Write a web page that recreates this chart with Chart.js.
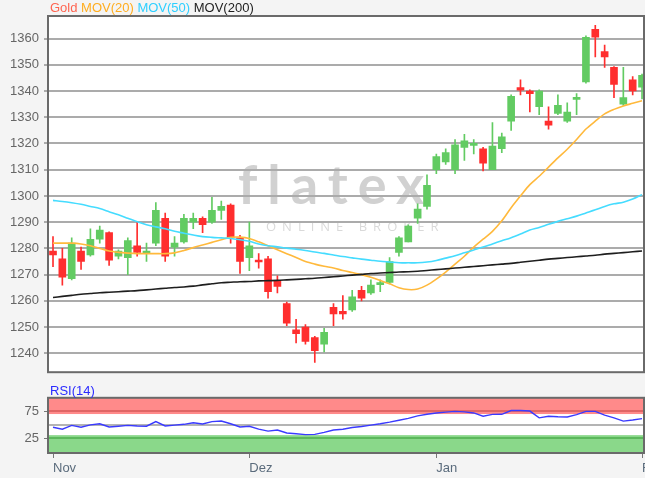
<!DOCTYPE html>
<html>
<head>
<meta charset="utf-8">
<title>Gold</title>
<script src="https://cdn.jsdelivr.net/npm/chart.js@4"></script>
<style>
  html, body { margin: 0; padding: 0; background: #f4f4f4; }
  #wrap { position: relative; width: 645px; height: 478px; overflow: hidden; }
  #price-box { position: absolute; left: 0; top: 0; width: 645px; height: 385px; }
  #rsi-box { position: absolute; left: 0; top: 385px; width: 645px; height: 93px; }
</style>
</head>
<body>
<div id="wrap">
  <div id="price-box"><canvas id="price-chart"></canvas></div>
  <div id="rsi-box"><canvas id="rsi-chart"></canvas></div>
</div>
<script>
// Gold daily candles, Nov 2017 - Feb 2018
const days = [
    '2017-11-01', '2017-11-02', '2017-11-03', '2017-11-06', '2017-11-07', '2017-11-08', '2017-11-09', '2017-11-10',
    '2017-11-13', '2017-11-14', '2017-11-15', '2017-11-16', '2017-11-17', '2017-11-20', '2017-11-21', '2017-11-22',
    '2017-11-24', '2017-11-27', '2017-11-28', '2017-11-29', '2017-11-30',
    '2017-12-01', '2017-12-04', '2017-12-05', '2017-12-06', '2017-12-07', '2017-12-08', '2017-12-11', '2017-12-12',
    '2017-12-13', '2017-12-14', '2017-12-15', '2017-12-18', '2017-12-19', '2017-12-20', '2017-12-21', '2017-12-22',
    '2017-12-26', '2017-12-27', '2017-12-28', '2017-12-29',
    '2018-01-02', '2018-01-03', '2018-01-04', '2018-01-05', '2018-01-08', '2018-01-09', '2018-01-10', '2018-01-11',
    '2018-01-12', '2018-01-15', '2018-01-16', '2018-01-17', '2018-01-18', '2018-01-19', '2018-01-22', '2018-01-23',
    '2018-01-24', '2018-01-25', '2018-01-26', '2018-01-29', '2018-01-30', '2018-01-31',
    '2018-02-01'
];

const opens = [
    1279, 1276, 1268.5, 1279, 1277.5, 1283.5, 1286, 1277, 1276.5, 1281, 1278, 1282, 1291.5, 1280.5, 1282.5, 1290,
    1291.5, 1290, 1294.5, 1296.5, 1284, 1276.5, 1275.3, 1276, 1267.5, 1259, 1249, 1250, 1246, 1243.5, 1257.5, 1256,
    1256.5, 1264, 1263, 1266.2, 1267, 1278.5, 1282.5, 1291.5, 1296, 1310, 1313, 1310, 1318.5, 1319.3, 1318, 1310,
    1318, 1328.5, 1341.3, 1340, 1334, 1328.5, 1331.5, 1328.5, 1336.8, 1343.5, 1363.5, 1355, 1349, 1335, 1344.3, 1341.5
];
const highs = [
    1284.5, 1280, 1284, 1280.5, 1287.5, 1288.5, 1286.3, 1279.5, 1284, 1290, 1282, 1297.5, 1293.5, 1284.5, 1293, 1293.5,
    1292, 1299.5, 1298, 1297, 1285, 1290, 1278, 1277, 1269.5, 1259.5, 1253, 1251, 1246.5, 1249.5, 1259, 1262,
    1264, 1265.5, 1268, 1268, 1276.5, 1284.5, 1289, 1297, 1308, 1316, 1318, 1321.5, 1323.5, 1321.5, 1318.5, 1328,
    1324, 1338.5, 1344.3, 1340.5, 1340.5, 1334, 1338.5, 1335.5, 1339, 1361, 1365, 1357.5, 1349.3, 1349, 1345.5, 1346.5
];
const lows = [
    1273, 1266, 1268, 1272, 1277, 1282, 1273.5, 1276, 1270, 1277, 1275, 1281, 1275, 1277, 1282, 1287.5,
    1286, 1289.5, 1291, 1282, 1270.5, 1271.5, 1272.5, 1261, 1263, 1250.5, 1244, 1243.5, 1236.5, 1240.5, 1250.5, 1253,
    1256, 1260, 1262.5, 1263.5, 1266.5, 1277, 1282.5, 1289.5, 1295, 1308.5, 1312, 1308.5, 1313.5, 1316, 1309.5, 1310,
    1316.5, 1325, 1338.5, 1332, 1331, 1325.5, 1331, 1328, 1331, 1343, 1353, 1349, 1337.5, 1334.5, 1338.5, 1337
];
const closes = [
    1277.5, 1269, 1282, 1275, 1283.5, 1287, 1275.5, 1279, 1283, 1278.5, 1279, 1294.5, 1277, 1282, 1291.5, 1291.5,
    1289, 1294.5, 1296, 1284, 1275, 1281, 1274.8, 1263.5, 1265.5, 1251.5, 1247.5, 1244.5, 1241, 1248, 1255, 1255,
    1261.5, 1261, 1266, 1266.8, 1275, 1284, 1288.5, 1295, 1304, 1315, 1316.5, 1319.5, 1321, 1319.7, 1312.5, 1319,
    1322.5, 1338, 1340.3, 1339, 1340, 1327, 1334.5, 1332, 1337.2, 1360.5, 1360.5, 1353, 1342.5, 1337.5, 1340, 1346
];

const mov20 = [
    1282, 1282, 1282, 1281.7, 1281, 1280, 1279, 1278.5, 1278.2, 1278, 1278, 1278, 1278, 1278.3, 1279.2, 1280.3,
    1281.3, 1282.3, 1283.3, 1284.2, 1284.3, 1283.8, 1282.5, 1281, 1279.5, 1278, 1276.5, 1275, 1274, 1273.2, 1272.5, 1271.6,
    1270.8, 1270, 1269, 1267.8, 1266.5, 1265, 1264.3, 1264.5, 1266, 1268.3, 1271, 1274, 1277, 1280.5, 1283.5, 1286.5,
    1290.5, 1295.5, 1300, 1304.3, 1307.5, 1311, 1314.5, 1317.8, 1321.5, 1325.5, 1328.5, 1331.3, 1333, 1334.3, 1335.3, 1336.3
];
const mov50 = [
    1298.3, 1297.9, 1297.4, 1296.8, 1296, 1295.2, 1294, 1292.8, 1291.5, 1290.2, 1289, 1288.2, 1287.5, 1286.5, 1285.8, 1285.1,
    1284.5, 1284.2, 1284, 1283.8, 1283.3, 1282.7, 1281.7, 1281, 1280.6, 1280.1, 1279.7, 1279.2, 1278.6, 1278.1, 1277.5, 1276.9,
    1276.4, 1275.9, 1275.5, 1275.1, 1274.8, 1274.5, 1274.5, 1274.5, 1274.8, 1275.4, 1276.3, 1277.2, 1278.3, 1279.4, 1280.5, 1281.7,
    1282.9, 1284.1, 1285.5, 1287, 1288, 1289.2, 1290.3, 1291.3, 1292.3, 1293.5, 1294.7, 1296, 1297, 1297.6, 1298.8, 1300.5
];
const mov200 = [
    1261.3, 1261.7, 1262.1, 1262.5, 1262.8, 1263.1, 1263.3, 1263.5, 1263.7, 1263.9, 1264.2, 1264.5, 1264.8, 1265.1, 1265.3, 1265.6,
    1266.1, 1266.5, 1266.9, 1267.1, 1267.3, 1267.4, 1267.6, 1267.7, 1267.8, 1268, 1268.2, 1268.4, 1268.6, 1268.9, 1269.2, 1269.5,
    1269.8, 1270.1, 1270.4, 1270.6, 1270.8, 1271, 1271.1, 1271.3, 1271.6, 1271.9, 1272.2, 1272.5, 1272.8, 1273.1, 1273.4, 1273.7,
    1274, 1274.3, 1274.7, 1275.1, 1275.5, 1275.9, 1276.2, 1276.5, 1276.8, 1277.1, 1277.4, 1277.8, 1278.1, 1278.4, 1278.7, 1279
];
const rsi14 = [
    45.5, 42, 49, 45.5, 50, 52, 46, 47.5, 49, 48, 47.5, 56, 48, 49.5, 51, 54,
    51.5, 56, 57, 52, 46, 47.5, 42, 38.5, 40.5, 35, 33.5, 32, 32.4, 36, 40.5, 42,
    45, 47, 49.5, 52, 55, 58.5, 62, 66.5, 69.5, 72, 73.5, 75, 74, 72, 66, 69.4,
    69.5, 76.5, 76.5, 75.5, 63, 66, 65, 64.5, 69, 75, 75, 68, 63, 57, 59, 61.5
];

const priceTicks = [1240, 1250, 1260, 1270, 1280, 1290, 1300, 1310, 1320, 1330, 1340, 1350, 1360];
const rsiTicks = [25, 75];
const monthNames = { '01': 'Jan', '02': 'Feb', '11': 'Nov', '12': 'Dez' };

// Colors
const upColor = '#62cb62';
const downColor = '#ff2e2e';
const mov20Color = '#ffb93c';
const mov50Color = '#45dcff';
const mov200Color = '#1e1e1e';
const rsiColor = '#3a3aff';
const gridColor = '#ababab';
const frameColor = '#6a6a6a';
const labelColor = '#666666';

Chart.defaults.font.family = '"Liberation Sans", Arial, sans-serif';
Chart.defaults.font.size = 13;

// visible index window (last candle is cut by the right edge)
const xMin = -0.535;
const xMax = 63.21;

// first trading day of each month -> tick
const monthStarts = days
    .map((d, i) => i)
    .filter(i => i === 0 || days[i].slice(5, 7) !== days[i - 1].slice(5, 7));

const candleColors = closes.map((c, i) => c >= opens[i] ? upColor : downColor);

function xy(values) {
    return values.map((v, i) => ({ x: i, y: v }));
}

// keep scale labels from shrinking the plot area
function noSidePadding(scale) {
    scale.paddingLeft = 0;
    scale.paddingRight = 0;
}

// White plot area + frame
const panelPlugin = {
    id: 'panel',
    beforeDraw(chart) {
        const { ctx, chartArea: a } = chart;
        ctx.save();
        ctx.fillStyle = '#ffffff';
        ctx.fillRect(a.left, a.top, a.right - a.left, a.bottom - a.top);
        ctx.restore();
    },
    afterDraw(chart) {
        const { ctx, chartArea: a } = chart;
        ctx.save();
        ctx.strokeStyle = frameColor;
        ctx.lineWidth = 2;
        ctx.strokeRect(a.left, a.top, a.right - a.left, a.bottom - a.top);
        ctx.restore();
    }
};

const watermarkPlugin = {
    id: 'watermark',
    beforeDraw(chart) {
        const ctx = chart.ctx;
        ctx.save();
        ctx.textAlign = 'left';
        ctx.textBaseline = 'alphabetic';
        ctx.fillStyle = 'rgba(140, 140, 140, 0.4)';
        ctx.font = 'bold 54px Lato, "Open Sans", sans-serif';
        ctx.letterSpacing = '10px';
        ctx.fillText('flatex', 238, 204);
        ctx.fillStyle = 'rgba(170, 170, 170, 0.45)';
        ctx.font = '13px "Open Sans", sans-serif';
        ctx.letterSpacing = '6px';
        ctx.fillText('ONLINE BROKER', 266, 231);
        ctx.restore();
    }
};

// Colored text legend on top
const legendItems = [
    { text: 'Gold', color: '#ff6450' },
    { text: 'MOV(20)', color: '#ffad1f' },
    { text: 'MOV(50)', color: '#2fcfff' },
    { text: 'MOV(200)', color: '#1e1e1e' }
];

const textLegendPlugin = {
    id: 'textLegend',
    afterDraw(chart, args, opts) {
        const ctx = chart.ctx;
        ctx.save();
        ctx.font = '13px "Liberation Sans", Arial, sans-serif';
        ctx.textBaseline = 'alphabetic';
        ctx.textAlign = 'left';
        let x = opts.x;
        opts.items.forEach(item => {
            ctx.fillStyle = item.color;
            ctx.fillText(item.text, x, opts.y);
            x += ctx.measureText(item.text + ' ').width;
        });
        ctx.restore();
    }
};

// RSI zones
const rsiZonesPlugin = {
    id: 'rsiZones',
    beforeDraw(chart, args, opts) {
        const { ctx, chartArea: a } = chart;
        const y = chart.scales.y;
        const w = a.right - a.left;
        const hLine = (value, color) => {
            const py = Math.round(y.getPixelForValue(value));
            ctx.strokeStyle = color;
            ctx.beginPath();
            ctx.moveTo(a.left, py);
            ctx.lineTo(a.right, py);
            ctx.stroke();
        };
        ctx.save();
        ctx.fillStyle = '#ff8a8a';
        const rTop = y.getPixelForValue(opts.overbought[1]);
        const rBot = y.getPixelForValue(opts.overbought[0]);
        ctx.fillRect(a.left, rTop, w, rBot - rTop);
        ctx.fillStyle = '#8ad88a';
        const gTop = y.getPixelForValue(opts.oversold[1]);
        const gBot = y.getPixelForValue(y.min);
        ctx.fillRect(a.left, gTop, w, gBot - gTop);
        ctx.lineWidth = 2;
        hLine(75, '#e06565');
        hLine(25, '#5cb85c');
        hLine(50, '#b4b4b4');
        ctx.restore();
    },
    afterDraw(chart, args, opts) {
        const ctx = chart.ctx;
        ctx.save();
        ctx.font = '13px "Liberation Sans", Arial, sans-serif';
        ctx.fillStyle = '#2b2bff';
        ctx.textAlign = 'left';
        ctx.textBaseline = 'alphabetic';
        ctx.fillText(opts.title, 50, 10);
        ctx.restore();
    }
};

// Price chart
const priceChart = new Chart(document.getElementById('price-chart'), {
    type: 'bar',
    data: {
        datasets: [
            {
                type: 'line', label: 'MOV(200)', data: xy(mov200),
                borderColor: mov200Color, borderWidth: 1.6, pointRadius: 0, tension: 0.3, order: 0
            },
            {
                type: 'line', label: 'MOV(50)', data: xy(mov50),
                borderColor: mov50Color, borderWidth: 1.6, pointRadius: 0, tension: 0.3, order: 0
            },
            {
                type: 'line', label: 'MOV(20)', data: xy(mov20),
                borderColor: mov20Color, borderWidth: 1.6, pointRadius: 0, tension: 0.3, order: 0
            },
            {
                label: 'Gold',
                data: opens.map((o, i) => ({ x: i, y: [o, closes[i]] })),
                backgroundColor: candleColors,
                barThickness: 7,
                minBarLength: 2,
                grouped: false,
                order: 1
            },
            {
                label: 'Gold range',
                data: lows.map((l, i) => ({ x: i, y: [l, highs[i]] })),
                backgroundColor: candleColors,
                barThickness: 1,
                grouped: false,
                order: 2
            }
        ]
    },
    options: {
        responsive: true,
        maintainAspectRatio: false,
        animation: false,
        events: [],
        layout: { padding: { top: 16, right: 1, bottom: 5, left: 0 }, autoPadding: false },
        plugins: {
            legend: { display: false },
            tooltip: { enabled: false },
            textLegend: { x: 50, y: 12, items: legendItems }
        },
        scales: {
            x: { type: 'linear', display: false, offset: false, min: xMin, max: xMax },
            y: {
                min: 1232.8,
                max: 1368.6,
                afterFit: scale => { scale.width = 48; },
                afterBuildTicks: scale => { scale.ticks = priceTicks.map(v => ({ value: v })); },
                grid: { color: gridColor, lineWidth: 2, tickLength: 4 },
                border: { display: false },
                ticks: { color: labelColor, padding: 5, font: { size: 13 }, callback: v => String(v) }
            }
        }
    },
    plugins: [panelPlugin, watermarkPlugin, textLegendPlugin]
});

// RSI chart
const rsiChart = new Chart(document.getElementById('rsi-chart'), {
    type: 'line',
    data: {
        datasets: [{
            label: 'RSI(14)',
            data: xy(rsi14),
            borderColor: rsiColor,
            borderWidth: 1.4,
            pointRadius: 0,
            tension: 0
        }]
    },
    options: {
        responsive: true,
        maintainAspectRatio: false,
        animation: false,
        events: [],
        layout: { padding: { top: 12, right: 1, bottom: 0, left: 0 }, autoPadding: false },
        plugins: {
            legend: { display: false },
            tooltip: { enabled: false },
            rsiZones: { overbought: [70, 100], oversold: [0, 31], title: 'RSI(14)' }
        },
        scales: {
            x: {
                type: 'linear',
                offset: false,
                min: xMin,
                max: xMax,
                afterFit: scale => { scale.height = 25; noSidePadding(scale); },
                afterBuildTicks: scale => { scale.ticks = monthStarts.map(i => ({ value: i })); },
                grid: { drawOnChartArea: false, color: '#777777', tickLength: 5 },
                border: { display: false },
                ticks: {
                    autoSkip: false,
                    maxRotation: 0,
                    align: 'start',
                    padding: 3,
                    color: '#5a6b7c',
                    font: { size: 13 },
                    callback: value => monthNames[days[value].slice(5, 7)]
                }
            },
            y: {
                min: -2,
                max: 100,
                afterFit: scale => { scale.width = 48; },
                afterBuildTicks: scale => { scale.ticks = rsiTicks.map(v => ({ value: v })); },
                grid: { drawOnChartArea: false, color: '#777777', tickLength: 4 },
                border: { display: false },
                ticks: { color: labelColor, padding: 5, font: { size: 13 } }
            }
        }
    },
    plugins: [panelPlugin, rsiZonesPlugin]
});
</script>
</body>
</html>
